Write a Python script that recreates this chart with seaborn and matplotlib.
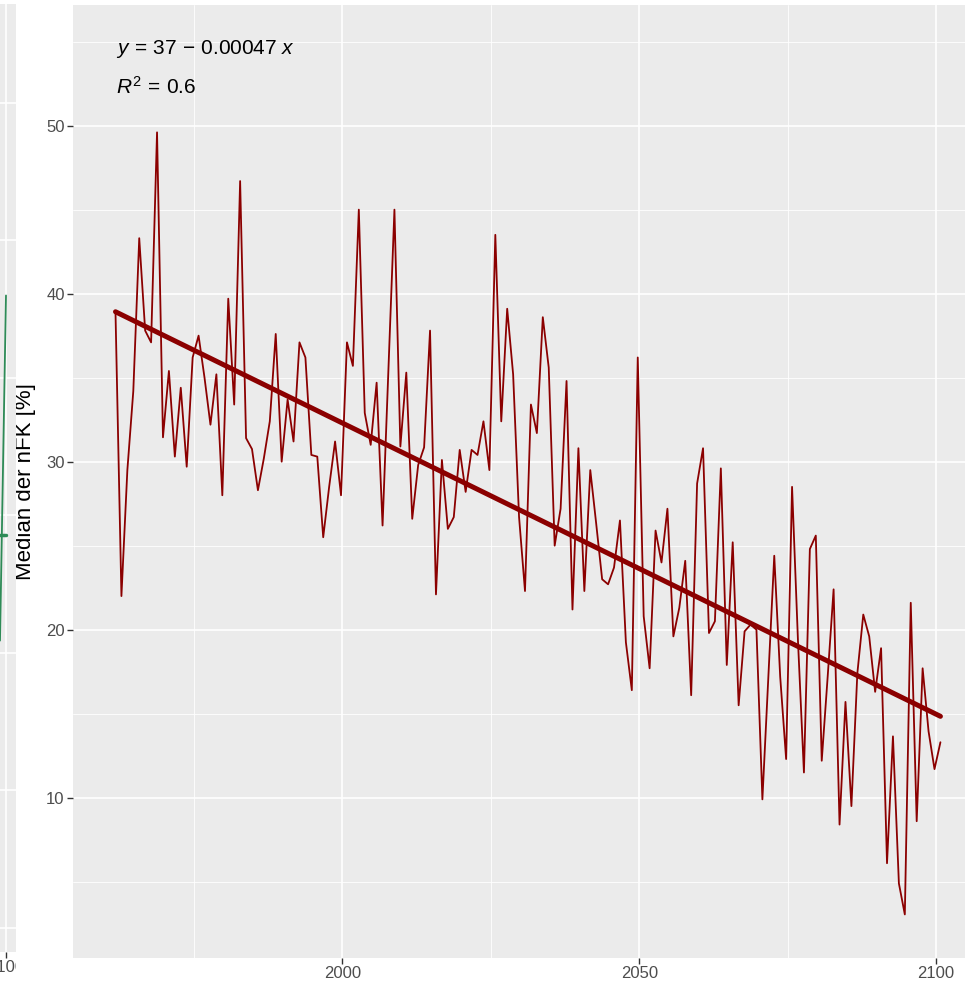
import numpy as np
import pandas as pd
import matplotlib
matplotlib.use("Agg")
import matplotlib.pyplot as plt
import seaborn as sns
from matplotlib.ticker import FixedLocator
from matplotlib.transforms import Bbox, TransformedBbox

# yearly median of nFK (%), 1961-2100
years = list(range(1961, 2101))
nfk_median = [
    38.9, 22.0, 29.5, 34.2, 43.3, 37.8, 37.1, 49.6, 31.45, 35.4,
    30.3, 34.4, 29.7, 36.2, 37.5, 35.0, 32.2, 35.2, 28.0, 39.7,
    33.4, 46.7, 31.4, 30.75, 28.3, 30.2, 32.4, 37.6, 30.0, 33.7,
    31.2, 37.1, 36.2, 30.4, 30.3, 25.5, 28.5, 31.2, 28.0, 37.1,
    35.7, 45.0, 32.9, 31.0, 34.7, 26.2, 35.6, 45.0, 30.9, 35.3,
    26.6, 29.8, 30.85, 37.8, 22.1, 30.1, 26.0, 26.7, 30.7, 28.2,
    30.7, 30.4, 32.4, 29.5, 43.5, 32.4, 39.1, 35.2, 26.7, 22.3,
    33.4, 31.7, 38.6, 35.6, 25.0, 27.2, 34.8, 21.2, 30.8, 22.3,
    29.5, 26.3, 23.0, 22.7, 23.7, 26.5, 19.25, 16.4, 36.2, 20.8,
    17.7, 25.9, 24.0, 27.2, 19.6, 21.3, 24.1, 16.1, 28.7, 30.8,
    19.8, 20.5, 29.6, 17.9, 25.2, 15.5, 19.9, 20.3, 20.0, 9.9,
    17.2, 24.4, 17.2, 12.3, 28.5, 19.3, 11.5, 24.8, 25.6, 12.2,
    17.2, 22.4, 8.4, 15.7, 9.5, 17.4, 20.9, 19.6, 16.3, 18.9,
    6.1, 13.65, 4.9, 3.05, 21.6, 8.6, 17.7, 13.95, 11.7, 13.3,
]
eq_label = r"$y\,=\,37\,-\,0.00047\ x$"
r2_label = r"$R^2\,=\,0.6$"
y_title = "Median der nFK [%]"

# the cut-off neighbouring panel on the left edge
neighbour_years = [2099, 2100]
neighbour_values = [20.9, 46.0]
neighbour_fit = [28.6, 28.6]

line_color = "#8B0000"
tick_col = "#4D4D4D"

sns.set_theme(style="darkgrid", rc={
    "axes.facecolor": "#EBEBEB",
    "grid.color": "white",
    "axes.edgecolor": "none",
})
plt.rcParams["font.family"] = ["Liberation Sans", "DejaVu Sans"]
plt.rcParams["mathtext.fontset"] = "custom"
plt.rcParams["mathtext.rm"] = "Liberation Sans"
plt.rcParams["mathtext.it"] = "Liberation Sans:italic"

W, H = 965, 986
fig = plt.figure(figsize=(W / 100, H / 100), dpi=100)

df = pd.DataFrame({"year": years, "nfk": nfk_median})
# values are dated late in each year
df["t"] = df["year"] + 0.75

ax = fig.add_axes([73 / W, (H - 957.7) / H, (W - 73) / W, (957.7 - 5) / H])
sns.lineplot(data=df, x="t", y="nfk", color=line_color, lw=1.3, ax=ax)
sns.regplot(data=df, x="t", y="nfk", scatter=False, ci=None, truncate=True,
            color=line_color, line_kws={"lw": 3.6}, ax=ax)

ax.set_xlim(1954.59, 2104.89)
ax.set_ylim(0.476, 57.18)
ax.xaxis.set_major_locator(FixedLocator([2000, 2050, 2100]))
ax.xaxis.set_minor_locator(FixedLocator([1975, 2025, 2075]))
ax.yaxis.set_major_locator(FixedLocator([10, 20, 30, 40, 50]))
ax.yaxis.set_minor_locator(FixedLocator([5, 15, 25, 35, 45, 55]))
ax.grid(which="major", color="white", lw=1.2)
ax.grid(which="minor", color="white", lw=0.6)
ax.tick_params(which="major", length=4, width=1.0, color="#333333",
               labelcolor=tick_col, labelsize=12, pad=2,
               bottom=True, left=True)
ax.tick_params(which="minor", length=0)
ax.set_xlabel("")
ax.set_ylabel(y_title, fontsize=16, color="black")
ax.yaxis.set_label_coords(-0.042, 0.5)

ax.text(0.048, 0.954, eq_label, transform=ax.transAxes, fontsize=15,
        va="center", ha="left", color="black")
ax.text(0.048, 0.914, r2_label, transform=ax.transAxes, fontsize=15,
        va="center", ha="left", color="black")

# neighbouring panel strip
ax2 = fig.add_axes([0, (H - 952) / H, 16 / W, (952 - 4) / H])
ax2.plot(neighbour_years, neighbour_values, color="seagreen", lw=1.3)
ax2.plot(neighbour_years, neighbour_fit, color="seagreen", lw=2.5)
ax2.set_xlim(2099, 2101.67)
ax2.set_ylim(-1.75, 67.2)
ax2.xaxis.set_major_locator(FixedLocator([2100]))
ax2.yaxis.set_major_locator(FixedLocator([0, 10, 20, 30, 40, 50, 60]))
ax2.grid(which="major", color="white", lw=1.2)
ax2.tick_params(axis="y", left=False, labelleft=False)
ax2.tick_params(axis="x", length=4, width=1.0, color="#333333",
                labelcolor=tick_col, labelsize=12, pad=2, bottom=True)
ax2.set_xticklabels(["2100"])
clip = TransformedBbox(Bbox([[0, 0], [16 / W, 1]]), fig.transFigure)
for lab in ax2.get_xticklabels():
    lab.set_clip_box(clip)
    lab.set_clip_on(True)

fig.savefig("out.png", dpi=100)
